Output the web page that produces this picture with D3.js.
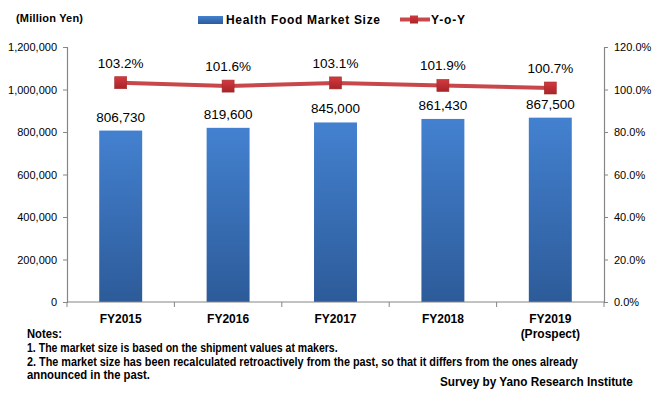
<!DOCTYPE html>
<html>
<head>
<meta charset="utf-8">
<script src="https://cdn.jsdelivr.net/npm/d3@7"></script>
<style>
  body { margin: 0; background: #fff; }
  text { font-family: "Liberation Sans", Arial, sans-serif; fill: #000; }
</style>
</head>
<body>
<div id="chart"></div>
<script>
var width = 659, height = 397;

// data
var years = ["FY2015", "FY2016", "FY2017", "FY2018", "FY2019"];
var marketSize = [806730, 819600, 845000, 861430, 867500];
var yoy = [103.2, 101.6, 103.1, 101.9, 100.7];
var leftTicks = [0, 200000, 400000, 600000, 800000, 1000000, 1200000];
var rightTicks = [0, 20, 40, 60, 80, 100, 120];
var notes = [
  "Notes:",
  "1. The market size is based on the shipment values at makers.",
  "2. The market size has been recalculated retroactively from the past, so that it differs from the ones already",
  "announced in the past."
];
var noteWidths = [35, 311, 551, 123];

var plot = {left: 67, right: 604, top: 47, bottom: 302};

var svg = d3.select("#chart").append("svg")
    .attr("width", width)
    .attr("height", height);

var defs = svg.append("defs");
var grad = defs.append("linearGradient").attr("id", "barGrad")
    .attr("x1", 0).attr("y1", 0).attr("x2", 0).attr("y2", 1);
grad.append("stop").attr("offset", "0%").attr("stop-color", "#4381d0");
grad.append("stop").attr("offset", "100%").attr("stop-color", "#2d5b99");

var mgrad = defs.append("linearGradient").attr("id", "markGrad")
    .attr("x1", 0).attr("y1", 0).attr("x2", 0).attr("y2", 1);
mgrad.append("stop").attr("offset", "0%").attr("stop-color", "#d23a3e");
mgrad.append("stop").attr("offset", "100%").attr("stop-color", "#a8232a");

var x = d3.scaleBand()
    .domain(years)
    .range([plot.left, plot.right])
    .paddingInner(0.6)
    .paddingOuter(0.3);

var yL = d3.scaleLinear().domain([0, 1200000]).range([plot.bottom, plot.top]);
var yR = d3.scaleLinear().domain([0, 120]).range([plot.bottom, plot.top]);

var axisColor = "#868686";

// left axis
var gl = svg.append("g")
    .attr("transform", "translate(" + plot.left + ",0)")
    .call(d3.axisLeft(yL).tickValues(leftTicks).tickSize(4).tickPadding(6)
      .tickFormat(d3.format(",")));
gl.selectAll("text").style("font-size", "11px");

// right axis
var gr = svg.append("g")
    .attr("transform", "translate(" + plot.right + ",0)")
    .call(d3.axisRight(yR).tickValues(rightTicks).tickSize(4).tickPadding(6)
      .tickFormat(function(d) { return d.toFixed(1) + "%"; }));
gr.selectAll("text").style("font-size", "11px");

svg.selectAll(".domain").attr("stroke", axisColor).attr("stroke-width", 1.2);
svg.selectAll(".tick line").attr("stroke", axisColor);

// bars
svg.selectAll(".bar")
    .data(years)
  .enter().append("rect")
    .attr("class", "bar")
    .attr("x", function(d) { return x(d); })
    .attr("width", x.bandwidth())
    .attr("y", function(d, i) { return yL(marketSize[i]); })
    .attr("height", function(d, i) { return plot.bottom - yL(marketSize[i]); })
    .attr("fill", "url(#barGrad)");

// bottom axis
svg.append("line")
    .attr("x1", plot.left).attr("x2", plot.right)
    .attr("y1", plot.bottom).attr("y2", plot.bottom)
    .attr("stroke", axisColor).attr("stroke-width", 1.2);
var step = x.step();
svg.selectAll(".xtick")
    .data(d3.range(years.length + 1))
  .enter().append("line")
    .attr("x1", function(i) { return plot.left + i * step; })
    .attr("x2", function(i) { return plot.left + i * step; })
    .attr("y1", plot.bottom).attr("y2", plot.bottom + 5)
    .attr("stroke", axisColor);

svg.selectAll(".xlab")
    .data(years)
  .enter().append("text")
    .attr("x", function(d) { return x(d) + x.bandwidth() / 2; })
    .attr("y", 323)
    .attr("text-anchor", "middle")
    .style("font-size", "12px")
    .style("font-weight", "bold")
    .text(function(d) { return d; });
svg.append("text")
    .attr("x", x("FY2019") + x.bandwidth() / 2)
    .attr("y", 338)
    .attr("text-anchor", "middle")
    .style("font-size", "12px")
    .style("font-weight", "bold")
    .text("(Prospect)");

// bar value labels
svg.selectAll(".vlab")
    .data(years)
  .enter().append("text")
    .attr("x", function(d) { return x(d) + x.bandwidth() / 2; })
    .attr("y", function(d, i) { return yL(marketSize[i]) - 9; })
    .attr("text-anchor", "middle")
    .style("font-size", "13.5px")
    .text(function(d, i) { return d3.format(",")(marketSize[i]); });

// y-o-y line
var line = d3.line()
    .x(function(d, i) { return x(years[i]) + x.bandwidth() / 2; })
    .y(function(d) { return yR(d); });
svg.append("path")
    .datum(yoy)
    .attr("d", line)
    .attr("fill", "none")
    .attr("stroke", "#c8474b")
    .attr("stroke-width", 4);

svg.selectAll(".mark")
    .data(yoy)
  .enter().append("rect")
    .attr("x", function(d, i) { return x(years[i]) + x.bandwidth() / 2 - 6; })
    .attr("y", function(d) { return yR(d) - 6; })
    .attr("width", 12).attr("height", 12)
    .attr("fill", "url(#markGrad)")
    .attr("stroke", "#a52a2a").attr("stroke-width", 0.6);

svg.selectAll(".plab")
    .data(yoy)
  .enter().append("text")
    .attr("x", function(d, i) { return x(years[i]) + x.bandwidth() / 2; })
    .attr("y", function(d) { return yR(d) - 15; })
    .attr("text-anchor", "middle")
    .style("font-size", "13.5px")
    .text(function(d) { return d.toFixed(1) + "%"; });

// unit
svg.append("text")
    .attr("x", 16).attr("y", 22)
    .style("font-size", "11px")
    .style("font-weight", "bold")
    .attr("textLength", 67)
    .text("(Million Yen)");

// legend
svg.append("rect")
    .attr("x", 198).attr("y", 16).attr("width", 25).attr("height", 8)
    .attr("fill", "url(#barGrad)");
svg.append("text")
    .attr("x", 226).attr("y", 24)
    .style("font-size", "12px")
    .style("font-weight", "bold")
    .attr("textLength", 154)
    .text("Health Food Market Size");
svg.append("line")
    .attr("x1", 400).attr("x2", 430).attr("y1", 19.5).attr("y2", 19.5)
    .attr("stroke", "#c8474b").attr("stroke-width", 4);
svg.append("rect")
    .attr("x", 410).attr("y", 15.5).attr("width", 8).attr("height", 8)
    .attr("fill", "url(#markGrad)");
svg.append("text")
    .attr("x", 431).attr("y", 24)
    .style("font-size", "12px")
    .style("font-weight", "bold")
    .attr("textLength", 34)
    .text("Y-o-Y");

// squeeze a text horizontally to a given width (the original font is narrow)
function squeeze(sel, w) {
  sel.each(function() {
    var n = this.getComputedTextLength();
    var g = d3.select(this.parentNode);
    g.attr("transform", g.attr("transform") + " scale(" + (w / n) + ",1)");
  });
}

// notes
notes.forEach(function(d, i) {
  var g = svg.append("g")
      .attr("transform", "translate(27," + [338, 352, 366, 379][i] + ")");
  var t = g.append("text")
      .style("font-size", "12.5px")
      .style("font-weight", "bold")
      .text(d);
  squeeze(t, noteWidths[i]);
});

var gs = svg.append("g").attr("transform", "translate(440,386)");
var ts = gs.append("text")
    .style("font-size", "13px")
    .style("font-weight", "bold")
    .text("Survey by Yano Research Institute");
squeeze(ts, 193);
</script>
</body>
</html>
